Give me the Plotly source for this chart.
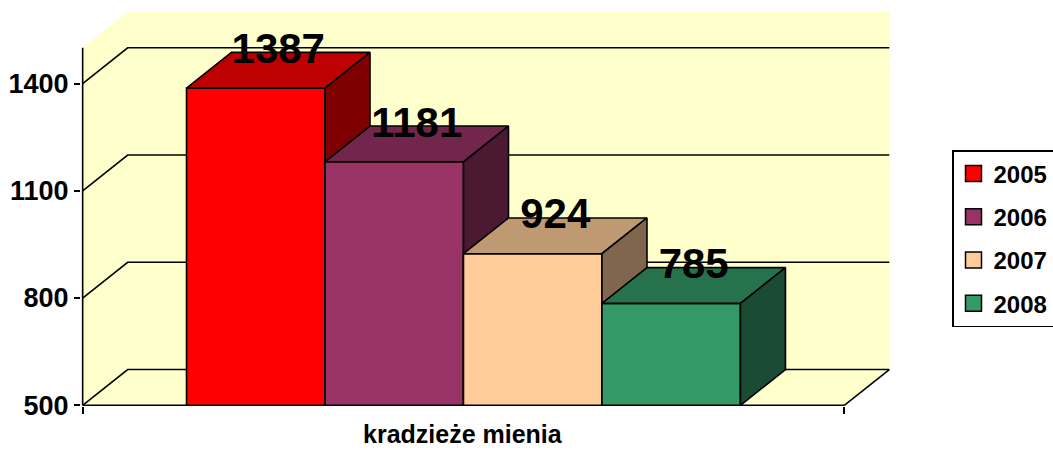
import plotly.graph_objects as go

# ---- data ----
category = "kradzieże mienia"
years = ["2005", "2006", "2007", "2008"]
values = [1387, 1181, 924, 785]
front_colors = ["#FF0000", "#993366", "#FFCC99", "#339966"]
y_ticks = [500, 800, 1100, 1400]

# ---- 3D geometry (in axis units) ----
Y_MIN, Y_MAX = 500, 1500
GAP = 0.75          # half of the 150% gap width, in bar widths
DX, DY = 0.325, 100  # depth offset of the back plane
n = len(values)
X_END = 2 * GAP + n
WALL = "#FFFFCC"
LW = 1.6


def shade(hx, f):
    hx = hx.lstrip("#")
    r, g, b = (int(hx[i:i + 2], 16) for i in (0, 2, 4))
    return "#%02X%02X%02X" % (int(r * f), int(g * f), int(b * f))


fig = go.Figure()


def poly(xs, ys, fill, line=True):
    fig.add_trace(go.Scatter(
        x=list(xs) + [xs[0]], y=list(ys) + [ys[0]], mode="lines",
        fill="toself", fillcolor=fill,
        line=dict(color="black" if line else fill, width=LW if line else 0),
        hoverinfo="skip", showlegend=False))


def seg(xs, ys):
    fig.add_trace(go.Scatter(x=xs, y=ys, mode="lines",
                             line=dict(color="black", width=LW),
                             hoverinfo="skip", showlegend=False))


# walls and floor
poly([DX, X_END + DX, X_END + DX, DX],
     [Y_MIN + DY, Y_MIN + DY, Y_MAX + DY, Y_MAX + DY], WALL, line=False)
poly([0, DX, DX, 0], [Y_MIN, Y_MIN + DY, Y_MAX + DY, Y_MAX], WALL, line=False)
poly([0, X_END, X_END + DX, DX], [Y_MIN, Y_MIN, Y_MIN + DY, Y_MIN + DY], WALL, line=False)

# gridlines on side + back wall
for v in y_ticks:
    seg([0, DX, X_END + DX], [v, v + DY, v + DY])
# floor edges and front axis
seg([0, X_END], [Y_MIN, Y_MIN])
seg([X_END, X_END + DX], [Y_MIN, Y_MIN + DY])
seg([0, 0], [Y_MIN, Y_MAX])

# bars
for i, (v, c) in enumerate(zip(values, front_colors)):
    x0 = GAP + i
    x1 = x0 + 1
    poly([x0, x1, x1, x0], [Y_MIN, Y_MIN, v, v], c)
    poly([x0, x1, x1 + DX, x0 + DX], [v, v, v + DY, v + DY], shade(c, 0.75))
    poly([x1, x1 + DX, x1 + DX, x1], [Y_MIN, Y_MIN + DY, v + DY, v], shade(c, 0.5))

# value labels
fig.add_trace(go.Scatter(
    x=[GAP + i + 0.5 + DX / 2 for i in range(n)],
    y=[v + DY for v in values],
    text=[str(v) for v in values], mode="text", textposition="middle center",
    textfont=dict(size=42, color="black", family="Liberation Sans", weight="bold"),
    hoverinfo="skip", showlegend=False, cliponaxis=False))

# legend entries
for i, (yname, c) in enumerate(zip(years, front_colors)):
    fig.add_trace(go.Scatter(
        x=[None], y=[None], mode="markers", name=yname, legendgroup=yname,
        marker=dict(symbol="square", size=18, color=c,
                    line=dict(color="black", width=1.5))))

fig.add_annotation(x=X_END / 2, xref="x", y=-0.072, yref="paper",
                   text=category, showarrow=False, yanchor="middle",
                   font=dict(size=25, color="black", family="Liberation Sans", weight="bold"))

fig.update_layout(
    width=1053, height=450,
    margin=dict(l=81, r=163, t=12, b=44, autoexpand=False),
    paper_bgcolor="white", plot_bgcolor="white",
    font=dict(family="Liberation Sans", color="black", weight="bold"),
    xaxis=dict(range=[-0.012, X_END + DX + 0.005], showgrid=False, zeroline=False,
               showline=False, tickvals=[0, X_END], ticktext=["", ""],
               ticks="outside", ticklen=7, tickwidth=1.5, tickcolor="black",
               automargin=False, fixedrange=True),
    yaxis=dict(range=[498, Y_MAX + DY], showgrid=False, zeroline=False,
               showline=False, tickvals=y_ticks,
               ticks="outside", ticklen=6, tickwidth=1.5, tickcolor="black",
               tickfont=dict(size=27, color="black", family="Liberation Sans", weight="bold"),
               automargin=False, fixedrange=True),
    legend=dict(x=(952 - 81) / 809, y=(406 - 150) / 394, xanchor="left", yanchor="top",
                bordercolor="black", borderwidth=1.5, bgcolor="white",
                font=dict(size=24, color="black", family="Liberation Sans", weight="bold"),
                tracegroupgap=9),
    showlegend=True,
)

fig.write_html("out.html", config={"displayModeBar": False},
               post_script="document.body.style.margin='0';document.body.style.overflow='hidden';")
